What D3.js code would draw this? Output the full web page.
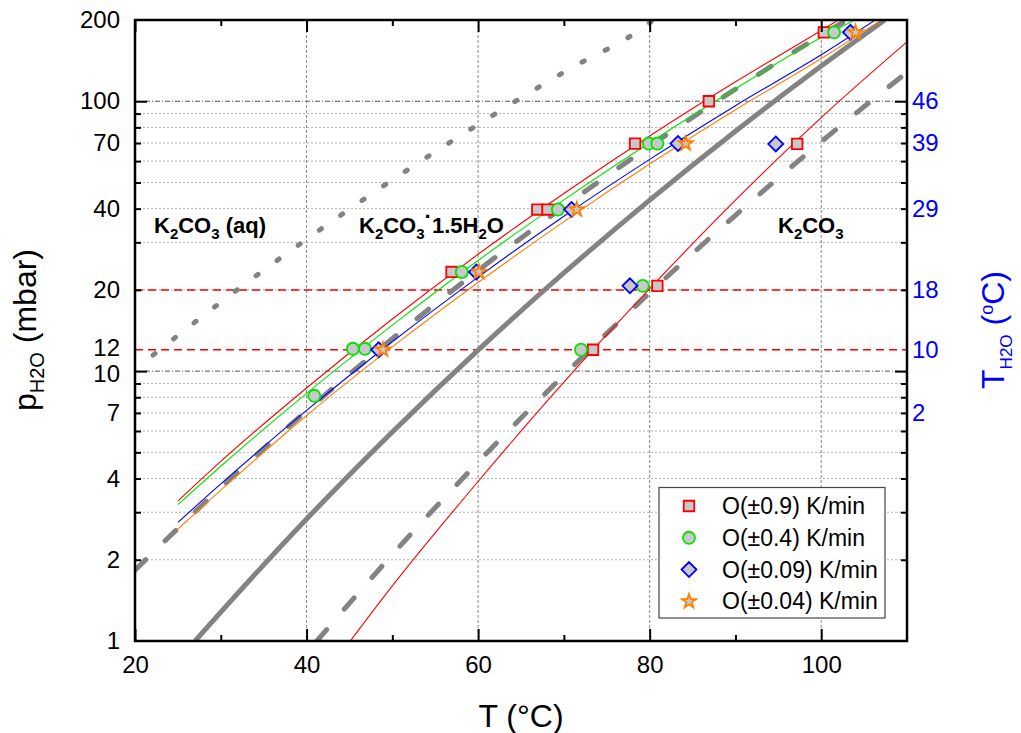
<!DOCTYPE html>
<html>
<head>
<meta charset="utf-8">
<script src="https://cdn.jsdelivr.net/npm/d3@7"></script>
<style>
  body { margin: 0; background: #fff; }
  svg text { font-family: 'Liberation Sans', Arial, Helvetica, sans-serif; }
</style>
</head>
<body>
<svg id="chart" width="1021" height="733"></svg>
<script>
// ---- axis ticks and labels ----
const tempMajor = [20, 40, 60, 80, 100];
const tempMinor = [30, 50, 70, 90];
const tempGrid = [40, 60, 80, 100];
const pLabels = [1, 2, 4, 7, 10, 12, 20, 40, 70, 100, 200];
const pMajor = [10, 100];
const pMinor = [2, 3, 4, 5, 6, 7, 8, 9, 20, 30, 40, 50, 60, 70, 80, 90];
// water-reservoir temperature (°C) belonging to a vapour pressure (mbar)
const waterPressure = [100, 70, 40, 20, 12, 7];
const waterTemp = [46, 39, 29, 18, 10, 2];
const setPressures = [20, 12];

// ---- equilibrium lines [T °C, p mbar] ----
const solutionLine = [[22.1, 11.46], [30, 18.0], [40, 30.8], [50, 51.1], [60, 82.0], [70, 128.2], [80, 195.4], [80.4, 200]];
const hydrateLine = [[20, 1.83], [30, 3.70], [40, 7.13], [50, 13.2], [60, 23.6], [70, 40.7], [80, 68.1], [90, 110.8], [100, 175.6], [103, 200]];
const anhydrousLine = [[27.0, 1], [30, 1.28], [40, 2.83], [50, 5.95], [60, 11.97], [70, 23.1], [80, 43.0], [90, 77.4], [100, 135], [107.4, 200]];
const dehydrationLine = [[41.2, 1], [50, 2.09], [60, 4.60], [70, 9.66], [80, 19.5], [90, 37.8], [100, 70.8], [110, 128]];

// ---- fitted lines per heating/cooling rate ----
const fit09 = [[25, 3.30], [30, 4.63], [40, 8.66], [50, 15.6], [60, 27.1], [70, 45.5], [80, 74.3], [90, 118], [100, 183], [102, 200]];
const fit04 = [[25, 3.20], [30, 4.44], [40, 8.27], [50, 14.8], [60, 25.7], [70, 43.1], [80, 70.2], [90, 111.3], [100, 172.2], [103.9, 200]];
const fit009 = [[25, 2.75], [30, 3.82], [40, 7.15], [50, 12.85], [60, 22.3], [70, 37.5], [80, 60.9], [90, 96.3], [100, 148.6], [106.3, 200]];
const fit004 = [[25, 2.60], [30, 3.62], [40, 6.85], [50, 12.3], [60, 21.3], [70, 35.8], [80, 58.5], [90, 93], [100, 144], [107, 200]];
const fitAnhydrous = [[45.1, 1], [50, 1.6], [60, 3.9], [70, 9.1], [80, 20.2], [90, 43], [100, 87], [110, 166]];

// ---- measured points [T °C, p mbar] ----
const rate09 = [[56.9, 23.3], [66.9, 39.7], [68.1, 39.7], [78.3, 69.7], [86.9, 100], [100.3, 180], [73.4, 12], [80.9, 20.7], [97.2, 69.5]];
const rate04 = [[40.9, 8.1], [45.4, 12.1], [46.8, 12.1], [58.1, 23.3], [69.3, 39.7], [79.9, 69.7], [80.9, 69.7], [101.5, 180], [72.0, 12], [79.2, 20.7]];
const rate009 = [[48.4, 12], [59.8, 23.3], [70.9, 39.7], [83.3, 69.7], [103.4, 180], [77.7, 20.7], [94.7, 69.5]];
const rate004 = [[48.9, 12], [60.1, 23.3], [71.5, 39.7], [84.2, 69.7], [104.0, 180]];

const legendLabels = ["O(\u00B10.9) K/min", "O(\u00B10.4) K/min", "O(\u00B10.09) K/min", "O(\u00B10.04) K/min"];

// ---- layout ----
const L = 135, R = 907, T = 20, B = 641;
const svg = d3.select("#chart");
const x = d3.scaleLinear().domain([20, 110]).range([L, R]);
const y = d3.scaleLog().domain([1, 200]).range([B, T]);

svg.append("defs").append("clipPath").attr("id", "plotClip")
  .append("rect").attr("x", L).attr("y", T).attr("width", R - L).attr("height", B - T);

// grid
const grid = svg.append("g");
grid.selectAll(".hmin").data(pMinor).join("line")
  .attr("x1", L).attr("x2", R).attr("y1", d => y(d)).attr("y2", d => y(d))
  .attr("stroke", "#b0b0b0").attr("stroke-width", 1).attr("stroke-dasharray", "2 2");
grid.selectAll(".hmaj").data(pMajor).join("line")
  .attr("x1", L).attr("x2", R).attr("y1", d => y(d)).attr("y2", d => y(d))
  .attr("stroke", "#555").attr("stroke-width", 1).attr("stroke-dasharray", "5 2 1 2");
grid.selectAll(".vgrid").data(tempGrid).join("line")
  .attr("x1", d => x(d)).attr("x2", d => x(d)).attr("y1", T).attr("y2", B)
  .attr("stroke", "#888").attr("stroke-width", 1).attr("stroke-dasharray", "3 2");

// set-point pressures
svg.append("g").selectAll("line").data(setPressures).join("line")
  .attr("x1", L).attr("x2", R).attr("y1", d => y(d)).attr("y2", d => y(d))
  .attr("stroke", "#ff0000").attr("stroke-width", 1.5).attr("stroke-dasharray", "8 5");

const plot = svg.append("g").attr("clip-path", "url(#plotClip)");
const line = d3.line().x(d => x(d[0])).y(d => y(d[1])).curve(d3.curveMonotoneX);

const grayLines = [
  { data: solutionLine, dash: "2.5 23.5" },
  { data: hydrateLine, dash: "15 27" },
  { data: anhydrousLine, dash: null },
  { data: dehydrationLine, dash: "15 27" }
];
grayLines.forEach(g => {
  plot.append("path").datum(g.data).attr("d", line)
    .attr("fill", "none").attr("stroke", "#838383").attr("stroke-width", 5)
    .attr("stroke-linecap", g.dash ? "round" : "butt")
    .attr("stroke-dasharray", g.dash);
});

const fits = [
  { data: fit09, color: "#ff0000" },
  { data: fit04, color: "#00e600" },
  { data: fit009, color: "#0000ff" },
  { data: fit004, color: "#ff8000" },
  { data: fitAnhydrous, color: "#ff0000" }
];
fits.forEach(f => {
  plot.append("path").datum(f.data).attr("d", line)
    .attr("fill", "none").attr("stroke", f.color).attr("stroke-width", 1.1);
});

// markers
const series = [
  { data: rate09, color: "#ff0000", type: d3.symbolSquare, size: 110, rot: 0 },
  { data: rate04, color: "#00e600", type: d3.symbolCircle, size: 115, rot: 0 },
  { data: rate009, color: "#0000ff", type: d3.symbolSquare, size: 112, rot: 45 },
  { data: rate004, color: "#ff8000", type: d3.symbolStar, size: 62, rot: 0 }
];
series.forEach(s => {
  const sym = d3.symbol().type(s.type).size(s.size);
  plot.append("g").selectAll("path").data(s.data).join("path")
    .attr("d", sym)
    .attr("transform", d => `translate(${x(d[0])},${y(d[1])}) rotate(${s.rot})`)
    .attr("fill", "#c8c8c8").attr("stroke", s.color).attr("stroke-width", 1.8);
});

// ticks (pointing inward)
function ticks(axis, tr, values, size) {
  const g = svg.append("g").attr("transform", tr)
    .call(axis.tickValues(values).tickSize(-size).tickFormat(""));
  g.select(".domain").remove();
  g.selectAll(".tick line").attr("stroke", "#000").attr("stroke-width", 2);
}
ticks(d3.axisLeft(y), `translate(${L},0)`, pMajor, 12);
ticks(d3.axisLeft(y), `translate(${L},0)`, pMinor, 6);
ticks(d3.axisRight(y), `translate(${R},0)`, pMajor, 12);
ticks(d3.axisRight(y), `translate(${R},0)`, pMinor, 6);
ticks(d3.axisBottom(x), `translate(0,${B})`, tempMajor, 12);
ticks(d3.axisBottom(x), `translate(0,${B})`, tempMinor, 6);
ticks(d3.axisTop(x), `translate(0,${T})`, tempMajor, 12);
ticks(d3.axisTop(x), `translate(0,${T})`, tempMinor, 6);

// frame
svg.append("rect").attr("x", L).attr("y", T).attr("width", R - L).attr("height", B - T)
  .attr("fill", "none").attr("stroke", "#000").attr("stroke-width", 2.5);

// tick labels
function labels(axis, tr, values, fmt, pad, color) {
  const g = svg.append("g").attr("transform", tr)
    .call(axis.tickValues(values).tickSize(0).tickPadding(pad).tickFormat(fmt));
  g.select(".domain").remove();
  g.selectAll("text").attr("font-size", 24).attr("fill", color)
    .style("font-family", "'Liberation Sans', Arial, sans-serif");
  return g;
}
const leftLabels = labels(d3.axisLeft(y), `translate(${L},0)`, pLabels, d3.format("d"), 15, "#000");
// the 12 and 10 labels sit close together; keep their line boxes apart
leftLabels.selectAll(".tick").filter(d => d === 12).select("text").attr("dy", "0.22em");
leftLabels.selectAll(".tick").filter(d => d === 10).select("text").attr("dy", "0.42em");
labels(d3.axisBottom(x), `translate(0,${B})`, tempMajor, d3.format("d"), 15, "#000");
labels(d3.axisRight(y), `translate(${R},0)`, waterPressure, (d, i) => waterTemp[i], 5, "#0000ff");

// axis titles
svg.append("text").attr("x", (L + R) / 2).attr("y", 727).attr("text-anchor", "middle")
  .attr("font-size", 32).text("T (\u00B0C)");

const yt = svg.append("text").attr("transform", "translate(36,330) rotate(-90)")
  .attr("text-anchor", "middle").attr("font-size", 32);
yt.append("tspan").text("p");
yt.append("tspan").attr("font-size", 20).attr("dy", 8).text("H2O");
yt.append("tspan").attr("dy", -8).text(" (mbar)");

const rt = svg.append("text").attr("transform", "translate(1004,330) rotate(-90)")
  .attr("text-anchor", "middle").attr("font-size", 32).attr("fill", "#0000ff");
rt.append("tspan").text("T");
rt.append("tspan").attr("font-size", 17).attr("dy", 8).text("H2O");
rt.append("tspan").attr("dy", -8).text(" (");
rt.append("tspan").attr("font-size", 18).attr("dy", -11).text("o");
rt.append("tspan").attr("dy", 11).text("C)");

// phase region labels
function phase(xp, parts) {
  const t = svg.append("text").attr("x", xp).attr("y", 233)
    .attr("font-size", 22).attr("font-weight", "bold");
  parts.forEach(p => {
    const s = t.append("tspan").text(p[0]);
    if (p[1]) s.attr("font-size", p[1]);
    if (p[2]) s.attr("dy", p[2]);
  });
}
phase(154, [["K"], ["2", 15, 6], ["CO", null, -6], ["3", 15, 6], [" (aq)", null, -6]]);
phase(359, [["K"], ["2", 15, 6], ["CO", null, -6], ["3", 15, 6], ["\u00B7", null, -15], ["1.5H", null, 9], ["2", 15, 6], ["O", null, -6]]);
phase(778, [["K"], ["2", 15, 6], ["CO", null, -6], ["3", 15, 6]]);

// legend
const lg = svg.append("g");
lg.append("rect").attr("x", 659).attr("y", 487.5).attr("width", 226).attr("height", 130.5)
  .attr("fill", "#fff").attr("stroke", "#444").attr("stroke-width", 1.2);
series.forEach((s, i) => {
  const cy = 506 + i * 31.8;
  lg.append("path").attr("d", d3.symbol().type(s.type).size(s.size)())
    .attr("transform", `translate(689,${cy}) rotate(${s.rot})`)
    .attr("fill", "#c8c8c8").attr("stroke", s.color).attr("stroke-width", 1.8);
  lg.append("text").attr("x", 722).attr("y", cy + 8).attr("font-size", 23).text(legendLabels[i]);
});
</script>
</body>
</html>
